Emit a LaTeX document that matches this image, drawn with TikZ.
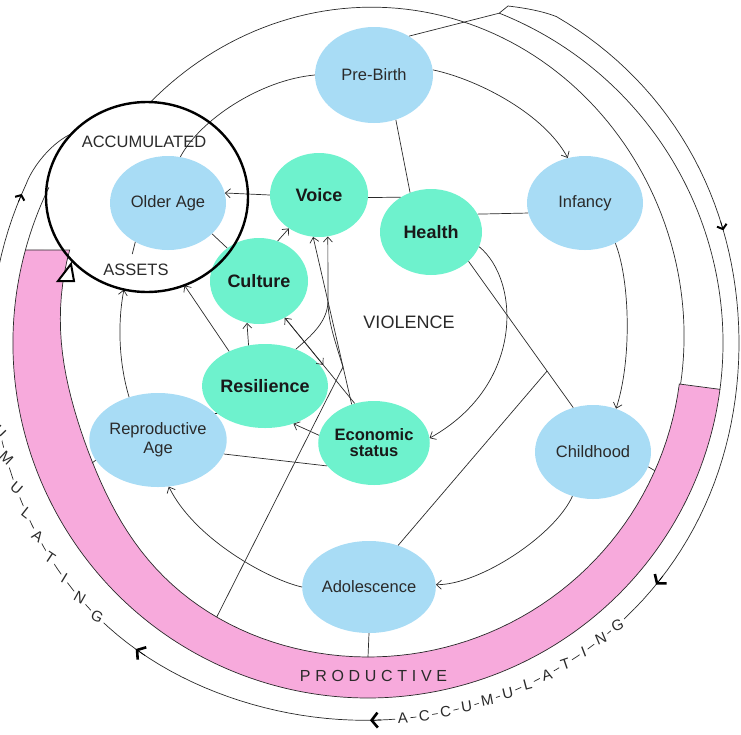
\documentclass[tikz,border=0pt]{standalone}
\usepackage{fontspec}
\setmainfont{Liberation Sans}
\usetikzlibrary{shapes.geometric,arrows.meta,calc}
\definecolor{nodeblue}{HTML}{A8DCF5}
\definecolor{nodegreen}{HTML}{6EF2CD}
\definecolor{bandpink}{HTML}{F7AADC}
\definecolor{ink}{HTML}{2A2A2A}
\begin{document}
\begin{tikzpicture}[x=1pt,y=-1pt,
  declare function={
    rin(\x)=314-14*exp(max(-15,0-((\x-160)/25)*((\x-160)/25)));
    rc(\x)=377+8*exp(max(-15,0-((\x-135)/25)*((\x-135)/25)))-6*exp(max(-15,0-(\x/30)*(\x/30)));
    ra(\x)=314+22*exp(max(-15,0-((\x+85)/55)*((\x+85)/55)));
  },
  conn/.style={draw=ink, line width=0.7pt},
  arr/.style={conn, -{Straight Barb[length=5pt,width=9pt]}},
  bigtip/.style={draw=black, line width=0.7pt, -{Straight Barb[length=6pt,width=15pt,line width=2.6pt]}},
  smalltip/.style={draw=black, line width=0.7pt, -{Straight Barb[length=4pt,width=10pt,line width=2pt]}},
  bnode/.style={ellipse, fill=nodeblue, inner sep=0pt, minimum width=116pt, minimum height=94pt, text=ink, align=center, font=\fontsize{16.5}{19}\selectfont},
  gnode/.style={ellipse, fill=nodegreen, inner sep=0pt, minimum width=100pt, minimum height=85pt, text=black!90, align=center, font=\fontsize{18}{19}\selectfont\bfseries},
  rlet/.style={fill=white, inner sep=2.6pt, text=ink, font=\fontsize{15}{15}\selectfont},
  lbl/.style={text=ink, inner sep=0pt},
]
\useasboundingbox (0,0) rectangle (741,734);
\coordinate (C) at (368,343);

% productive band
\path[fill=bandpink, draw=ink, line width=0.7pt]
  ($(C)+(195.2:355)$) arc[start angle=195.2, end angle=7.5, radius=355]
  -- plot[domain=7.5:197.3, samples=90] ({368+rin(\x)*cos(\x)},{343+rin(\x)*sin(\x)}) -- cycle;

% ring continuing the inner edge over the top
\draw[conn] plot[domain=-132:7.5, samples=90] ({368+ra(\x)*cos(\x)},{343+ra(\x)*sin(\x)});
% ring continuing the outer edge
\draw[conn] ($(C)+(7.5:355)$) arc[start angle=7.5, end angle=-68.3, radius=355] coordinate (J);
\draw[conn] ($(C)+(195.2:355)$) arc[start angle=195.2, end angle=206, radius=355];
\coordinate (K) at (508,6);

% nodes
\node[bnode, minimum width=118pt, minimum height=96pt] (pre) at (374,75) {Pre-Birth};
\node[bnode] (inf) at (585,203) {Infancy};
\node[bnode] (chi) at (593,452) {Childhood};
\node[bnode, minimum width=118pt, minimum height=92pt] (ado) at (369,587) {Adolescence};
\node[bnode] (rep) at (158,440) {Reproductive\\Age};
\node[bnode] (old) at (168,203) {Older Age};
\node[gnode, minimum width=98pt, minimum height=84pt] (voice) at (319,195) {Voice};
\node[gnode, minimum width=102pt, minimum height=86pt] (health) at (431,232) {Health};
\node[gnode, minimum width=98pt, minimum height=86pt] (culture) at (259,281) {Culture};
\node[gnode, minimum width=100pt, minimum height=84pt] (resil) at (265,386) {Resilience};
\node[gnode, minimum width=102pt, minimum height=84pt, font=\fontsize{16.5}{16}\selectfont\bfseries] (econ) at (374,443) {Economic\\status};
\node[ellipse, minimum width=202pt, minimum height=190pt, inner sep=0pt] (bc) at (147,197) {};

% outermost accumulating ring
\draw[conn] (pre.48) -- (J) -- (K);
\draw[conn] (K) .. controls (525,8) and (542,11) .. ($(C)+(-60:{rc(-60)})$)
  -- plot[domain=-60:205, samples=140] ({368+rc(\x)*cos(\x)},{343+rc(\x)*sin(\x)})
  .. controls (33,166) and (52,142) .. (73,133);
\draw[bigtip] ($(C)+(38.3:{rc(38.3)})$) -- ($(C)+(40:{rc(40)})$);
\draw[bigtip] ($(C)+(88:{rc(88)})$) -- ($(C)+(89.7:{rc(89.7)})$);
\draw[bigtip] ($(C)+(125.5:{rc(125.5)})$) -- ($(C)+(127.2:{rc(127.2)})$);
\draw[smalltip] ($(C)+(-19:{rc(-19)})$) -- ($(C)+(-17.6:{rc(-17.6)})$);
\draw[smalltip] ($(C)+(202:{rc(202)})$) -- ($(C)+(203.3:{rc(203.3)})$);

% life cycle
\draw[arr] (pre.5) .. controls (480,80) and (545,115) .. (inf.111);
\draw[arr] (inf.-53) .. controls (630,280) and (632,360) .. (chi.62);
\draw[arr] (chi.245) .. controls (555,535) and (480,585) .. (ado.2);
\draw[arr] (ado.180) .. controls (270,580) and (195,540) .. (rep.-77);
\draw[arr] (rep.124) .. controls (118,360) and (118,320) .. (bc.256);
\draw[conn] (old.230) -- ++(-3,12);
\draw[conn] (old.75) .. controls (200,120) and (260,80) .. (pre.180);

% links
\draw[conn] (pre.-64) -- (health.118);
\draw[conn] (health.21) -- (inf.190);
\draw[conn] (voice.-3) -- (health.131);
\draw[arr] (voice.180) -- (old.10);
\draw[arr] (culture.65) -- (voice.228);
\draw[conn] (old.-35) -- (culture.134);
\draw[arr] (resil.112) -- (culture.254);
\draw[arr] (resil.136) -- (bc.-67);
\draw[arr] (econ.172) -- (resil.-53);
\draw[conn] (rep.25) -- (resil.210);
\draw[conn] (rep.-12) -- (econ.206);
\draw[arr] (econ.120) -- (voice.262);
\draw[arr] (econ.116) -- (culture.-55);
\draw[arr] (culture.-55) -- ($(culture.-55)!0.55!(econ.116)$);
\draw[arr] ($(C)+(118.9:313)$) -- (343,367) .. controls (333,335) and (328,320) .. (328,300) -- (voice.-78);
\draw[conn] (resil.50) .. controls (312,335) and (327,322) .. (328,302);
\draw[arr] (health.-17) .. controls (520,280) and (525,385) .. (econ.5);
\draw[conn] (health.-38) -- coordinate[pos=0.75] (jn) (chi.114);
\draw[conn] (jn) -- (ado.55);
\draw[conn] (chi.-15) -- ($(C)+(24:314)$);
\draw[conn] (rep.198) -- ($(C)+(156.5:301)$);
\draw[conn] (ado.-90) -- ($(C)+(90:314)$);

% assets circle and arrow
\draw[line width=2.4pt] (bc.center) ellipse[x radius=101, y radius=95];
\draw[line width=2pt, fill=white, line join=miter] (58,281) -- (74,281) -- (71,264) -- cycle;

% labels
\node[lbl, font=\fontsize{18}{18}\selectfont] (vio) at (409,322) {VIOLENCE};
\node[lbl, font=\fontsize{16.5}{17}\selectfont] (acc) at (144,142) {ACCUMULATED};
\node[lbl, font=\fontsize{16.5}{17}\selectfont] (ast) at (136,270) {ASSETS};
\node[lbl, font=\fontsize{16}{16}\selectfont] (prod) at (373.5,676)
  {P\kern4.7pt R\kern4.7pt O\kern4.7pt D\kern4.7pt U\kern4.7pt C\kern4.7pt T\kern4.7pt I\kern4.7pt V\kern4.7pt E};
\foreach \L [count=\i from 0] in {A,C,C,U,M,U,L,A,T,I,N,G}{
  \pgfmathsetmacro\myang{84.7-3.29*\i}
  \pgfmathsetmacro\myrad{rc(\myang)}
  \pgfmathsetmacro\myrot{0.6*(90-\myang)}
  \node[rlet, rotate=\myrot] at ({368+\myrad*cos(\myang)},{343+\myrad*sin(\myang)}) {\L};
}
\foreach \L/\a in {U/166.5,M/162.4,U/157.5,L/153.5,A/149.7,T/146,I/142.2,N/138.5,G/134.7}{
  \pgfmathsetmacro\myrad{rc(\a)}
  \pgfmathsetmacro\myrot{0.6*(90-\a)}
  \node[rlet, rotate=\myrot] at ({368+\myrad*cos(\a)},{343+\myrad*sin(\a)}) {\L};
}
\end{tikzpicture}
\end{document}
